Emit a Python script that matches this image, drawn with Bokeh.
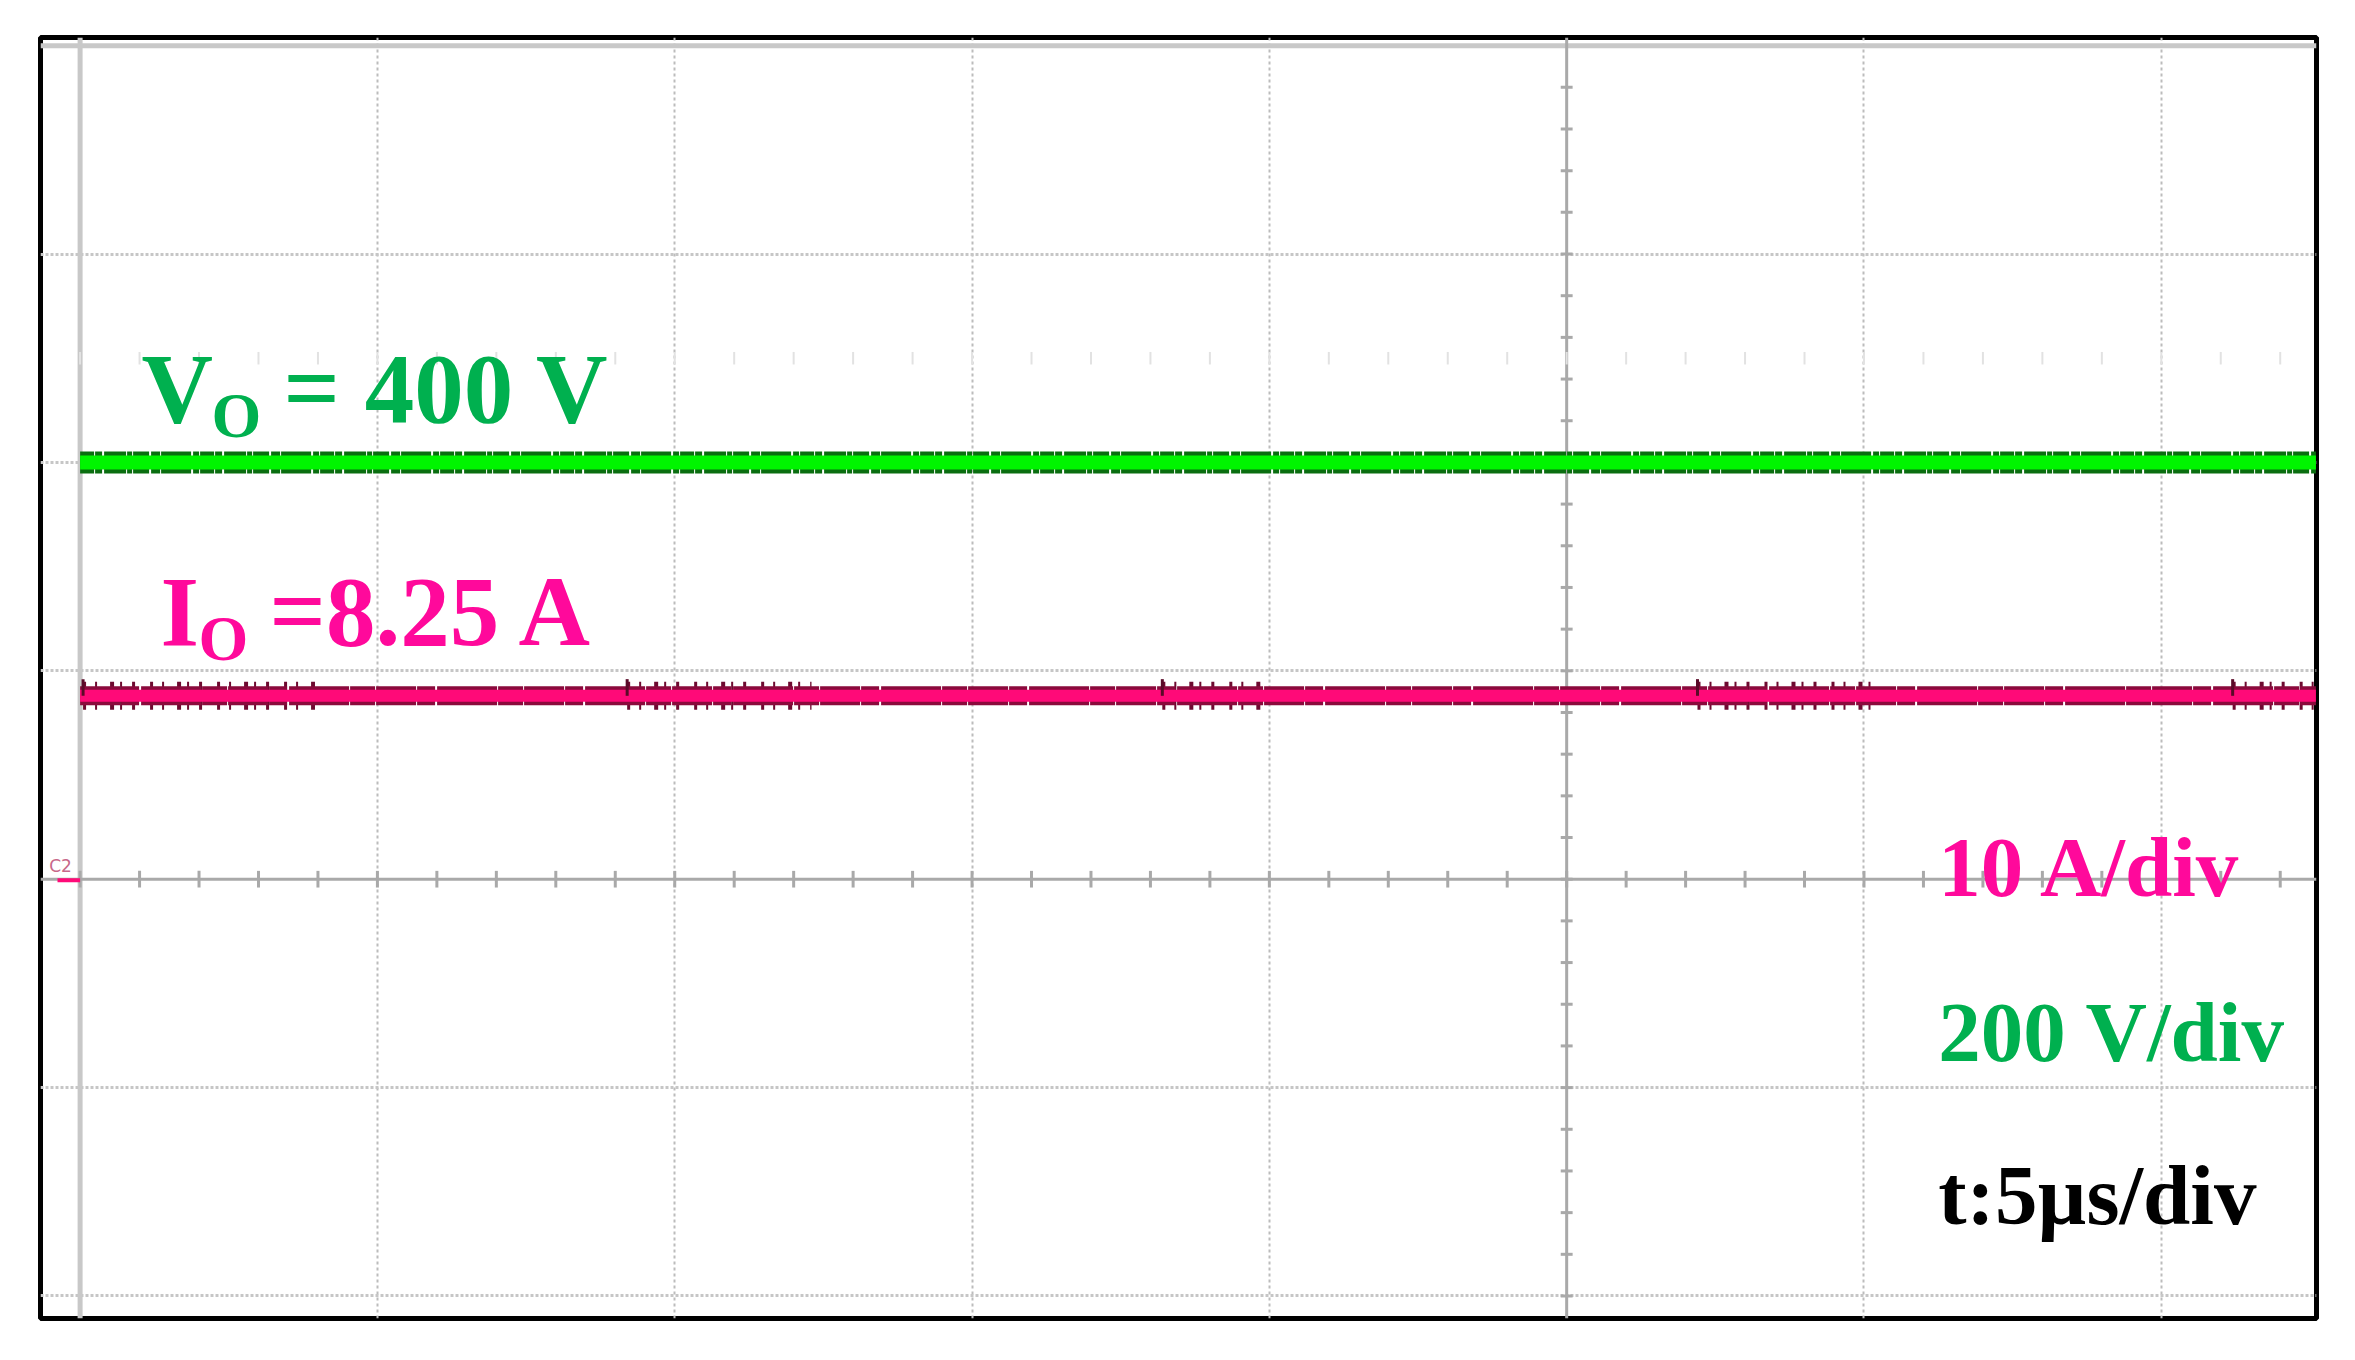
import numpy as np
from bokeh.plotting import figure
from bokeh.models import Range1d, Span, Grid, FixedTicker
from bokeh.core.properties import value
from bokeh.embed import file_html
from bokeh.resources import INLINE

# ---------------- data read from the oscilloscope capture ----------------
time_us = [0.0, 37.6]                 # visible part of the time window (µs)
vo_volts = [400.0, 400.0]             # output voltage trace (V)
io_amps = [8.8, 8.8]                  # output current trace as drawn (A)
io_burst_start_us = [0.05, 9.2, 18.2, 27.2, 36.2]   # ripple bursts on Io
io_burst_end_us = [3.95, 12.3, 19.9, 30.2, 37.6]
volts_per_div = 200
amps_per_div = 10
us_per_div = 5
vo_text = ["V", "O", "= 400 V"]
io_text = ["I", "O", "=8.25 A"]
scale_texts = ["10 A/div", "200 V/div", "t:5\u00b5s/div"]

# ---------------- screen geometry (in divisions) ----------------
X_START, X_END = -0.666, 37.61
DIV_BOT, DIV_TOP = -2.108, 4.039

W, H = 2347, 1344
p = figure(width=W, height=H, output_backend="svg", toolbar_location=None,
           x_range=Range1d(X_START, X_END), y_range=Range1d(DIV_BOT, DIV_TOP),
           x_axis_type=None, y_axis_type=None,
           min_border_left=40, min_border_right=W - 40 - 2276, min_border_top=37,
           min_border_bottom=H - 37 - 1281)
p.title.visible = False
p.extra_y_ranges = {
    "volts": Range1d(DIV_BOT * volts_per_div, DIV_TOP * volts_per_div),
    "amps": Range1d(DIV_BOT * amps_per_div, DIV_TOP * amps_per_div),
}
p.background_fill_color = "white"
p.border_fill_color = "white"
p.outline_line_color = "black"
p.outline_line_width = 5

# graticule
vgrid = Grid(dimension=0, ticker=FixedTicker(ticks=[us_per_div * k for k in (1, 2, 3, 4, 6, 7)]),
             grid_line_color="#bcbcbc", grid_line_width=2, grid_line_dash="3 3")
hgrid = Grid(dimension=1, ticker=FixedTicker(ticks=[3, 2, 1, -1, -2]),
             grid_line_color="#c6c6c6", grid_line_width=3, grid_line_dash="3 2")
p.add_layout(vgrid)
p.add_layout(hgrid)
# screen edges
p.add_layout(Span(location=0, dimension="height", line_color="#c8c8c8", line_width=5,
                  level="underlay"))
p.add_layout(Span(location=4, dimension="width", line_color="#c8c8c8", line_width=5,
                  level="underlay"))
# centre axes
xc = 5 * us_per_div
p.add_layout(Span(location=xc, dimension="height", line_color="#a9a9a9", line_width=3,
                  level="underlay"))
p.add_layout(Span(location=0, dimension="width", line_color="#a9a9a9", line_width=3,
                  level="underlay"))
yt = np.arange(-2.2, 4.0, 0.2)
p.segment(x0=[xc - 0.1] * len(yt), y0=yt, x1=[xc + 0.1] * len(yt), y1=yt,
          line_color="#a9a9a9", line_width=3)
xt = np.arange(0, 38, 1.0)
p.segment(x0=xt, y0=[-0.04] * len(xt), x1=xt, y1=[0.04] * len(xt),
          line_color="#a9a9a9", line_width=3)
# faint marker row
p.segment(x0=xt, y0=[2.47] * len(xt), x1=xt, y1=[2.53] * len(xt),
          line_color="#e2e2e2", line_width=2)

# ---------------- traces ----------------
# Vo (green)
p.line(time_us, vo_volts, y_range_name="volts", line_width=22, line_color="#0a6e10",
       line_dash="14 1 7 2 22 1 5 1 16 2 9 1 30 2 6 1", line_cap="butt")
p.line(time_us, vo_volts, y_range_name="volts", line_width=14, line_color="#00f500",
       line_cap="butt")

# Io (pink) with ripple bursts
io = io_amps[0]
p.multi_line(xs=[[s, e] for s, e in zip(io_burst_start_us, io_burst_end_us)],
             ys=[[io, io] for _ in io_burst_start_us], y_range_name="amps",
             line_width=28, line_color="#6e0a30", line_dash="3 9 2 13 4 6 2 10 3 15",
             line_cap="butt")
p.line(time_us, io_amps, y_range_name="amps", line_width=19, line_color="#8a0a3c",
       line_dash="40 1 18 2 60 1 25 1", line_cap="butt")
p.line(time_us, io_amps, y_range_name="amps", line_width=12, line_color="#ff0a78",
       line_cap="butt")
p.segment(x0=io_burst_start_us, y0=[io] * 5, x1=io_burst_start_us, y1=[io + 0.8] * 5,
          y_range_name="amps", line_color="#5a0a28", line_width=3)

# C2 ground marker
p.text(x=[-0.52], y=[0.064], text=["C2"], text_font=value("DejaVu Sans"),
       text_font_size=value("17px"), text_color="#c8688a", text_baseline="alphabetic")
p.segment(x0=[-0.38], y0=[-0.005], x1=[0.0], y1=[-0.005], line_color="#ff0a78", line_width=4)

# ---------------- annotations ----------------
GREEN, PINK = "#00b04f", "#ff099b"
def lab(x, y, t, color, size):
    p.text(x=[x], y=[y], text=[t], text_font=value("Liberation Serif"),
           text_font_style=value("bold"), text_font_size=value(size), text_color=color,
           text_baseline="alphabetic")

lab(1.033, 2.353, vo_text[0], GREEN, "99px")
lab(2.21, 2.227, vo_text[1], GREEN, "64px")
lab(3.42, 2.353, vo_text[2], GREEN, "99px")

lab(1.353, 1.283, io_text[0], PINK, "99px")
lab(1.99, 1.156, io_text[1], PINK, "64px")
lab(3.185, 1.283, io_text[2], PINK, "99px")

lab(31.25, 0.060, scale_texts[0], PINK, "85px")
lab(31.25, -0.732, scale_texts[1], GREEN, "85px")
lab(31.25, -1.514, scale_texts[2], "black", "85px")

open("out.html", "w").write(file_html(p, INLINE))
